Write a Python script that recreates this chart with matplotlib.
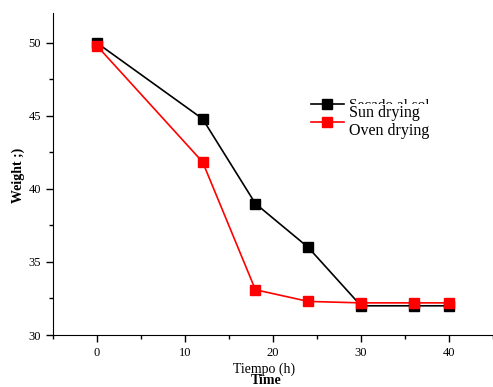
import matplotlib
matplotlib.use('Agg')
import matplotlib.pyplot as plt
from matplotlib.ticker import MultipleLocator

plt.rcParams['font.family'] = ['Liberation Serif', 'DejaVu Serif']

time_h = [0, 12, 18, 24, 30, 36, 40]
sun = [50.0, 44.8, 39.0, 36.0, 32.0, 32.0, 32.0]
oven = [49.8, 41.85, 33.1, 32.3, 32.2, 32.2, 32.2]

W, H = 493, 387
fig = plt.figure(figsize=(W / 100, H / 100), dpi=100)
ax = fig.add_axes([53 / W, 1 - 335 / H, 440 / W, 322 / H])

ax.plot(time_h, sun, color='black', marker='s', markersize=7, linewidth=1.2, label='Secado al sol')
ax.plot(time_h, oven, color='red', marker='s', markersize=7, linewidth=1.2, label=' ')

ax.set_xlim(-5, 45)
ax.set_ylim(30, 52.05)
ax.xaxis.set_major_locator(MultipleLocator(10))
ax.xaxis.set_minor_locator(MultipleLocator(5))
ax.yaxis.set_major_locator(MultipleLocator(5))
ax.yaxis.set_minor_locator(MultipleLocator(2.5))
ax.tick_params(which='both', direction='out', labelsize=9, width=1)
ax.tick_params(which='major', length=5)
ax.tick_params(which='minor', length=3)
ax.spines['top'].set_visible(False)
ax.spines['right'].set_visible(False)

leg = fig.legend(loc='upper left', bbox_to_anchor=(303 / W, 1 - 91 / H), frameon=False,
                 fontsize=11, handlelength=2.2, handletextpad=0.3, labelspacing=0.3,
                 borderpad=0)
leg.set_zorder(5)

# overlay text covering part of the original legend
fig.text(349 / W, 1 - 122 / H, 'Sun drying\nOven drying', fontsize=11.5, va='center',
         linespacing=1.2, zorder=10,
         bbox=dict(facecolor='white', edgecolor='none', pad=0.3))

fig.text(264 / W, 1 - 369 / H, 'Tiempo (h)', fontsize=10, ha='center', va='center')
fig.text(266 / W, 1 - 381 / H, 'Time', fontsize=10, ha='center', va='center', fontweight='bold')
fig.text(18 / W, 1 - 175 / H, 'Weight ;)', fontsize=10, ha='center', va='center',
         rotation=90, fontweight='bold')

fig.savefig('out.png', dpi=100)
